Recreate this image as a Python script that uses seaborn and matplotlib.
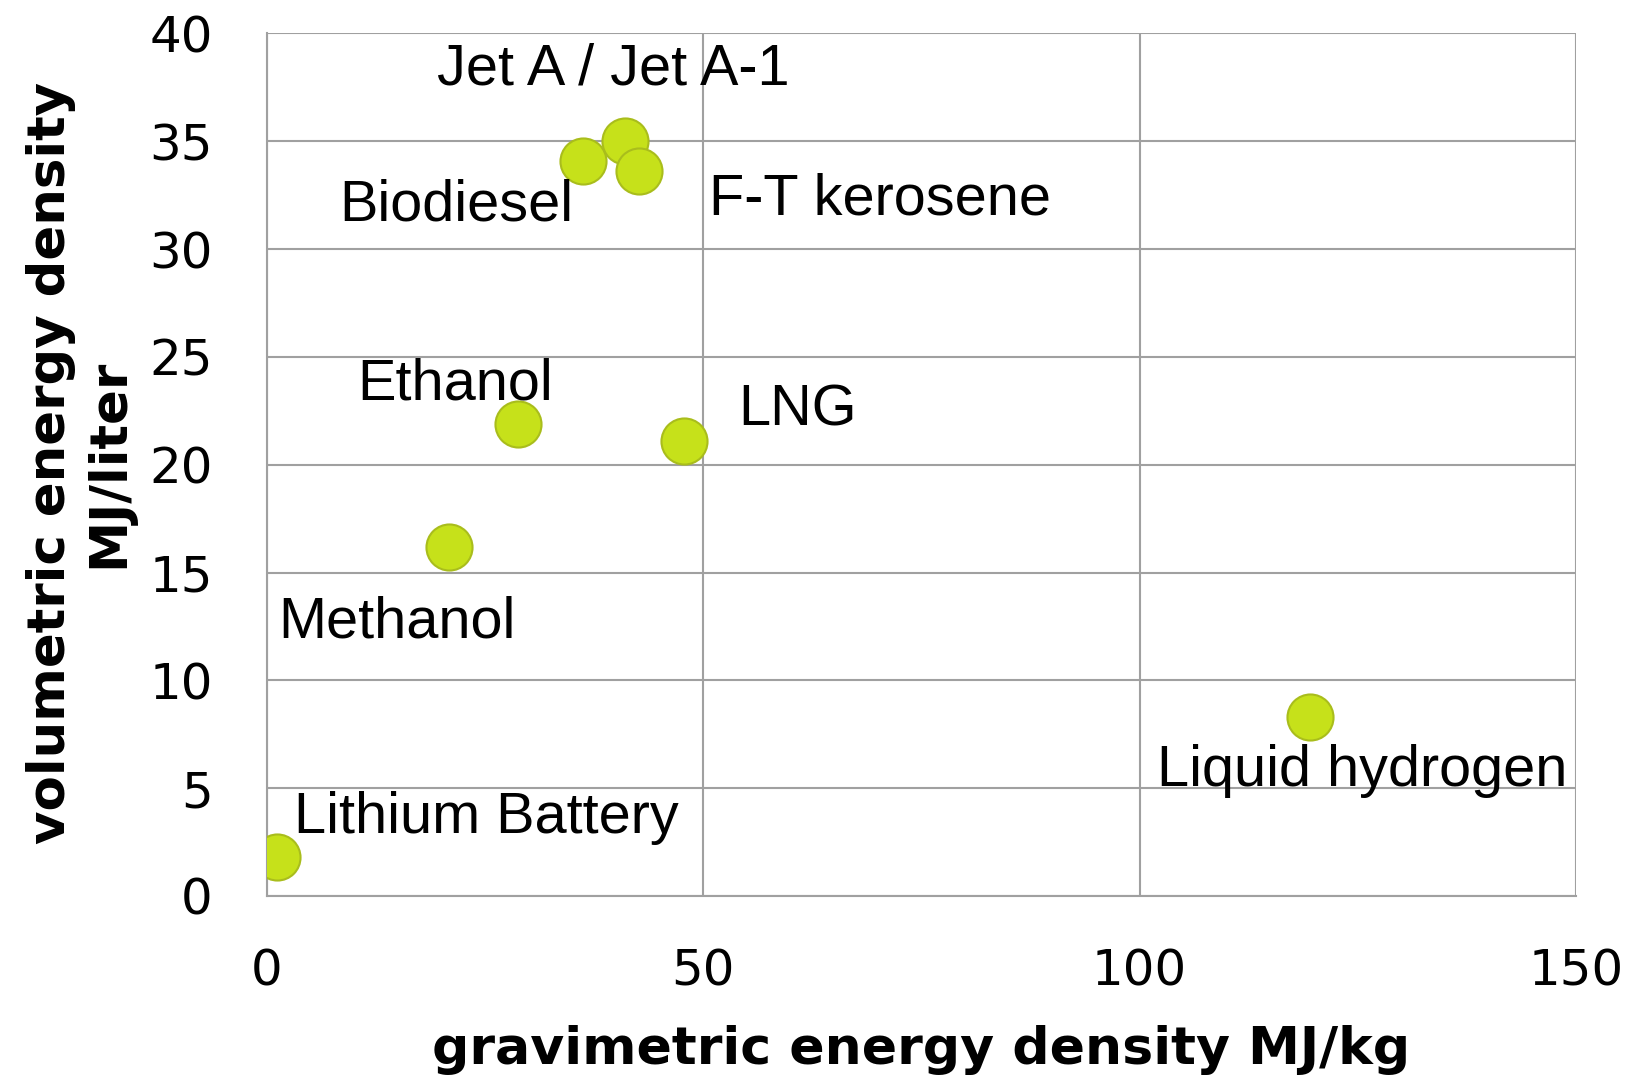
import seaborn as sns
import matplotlib.pyplot as plt
import pandas as pd

sns.set_style("white")
plt.rcParams["text.color"] = "black"
plt.rcParams["xtick.labelcolor"] = "black"
plt.rcParams["ytick.labelcolor"] = "black"

# Data
fuels = ["Lithium Battery", "Methanol", "Ethanol", "LNG", "Biodiesel",
         "Jet A / Jet A-1", "F-T kerosene", "Liquid hydrogen"]
gravimetric = [1.2, 20.9, 28.8, 47.8, 36.2, 41.0, 42.6, 119.5]   # MJ/kg
volumetric = [1.8, 16.2, 21.9, 21.1, 34.1, 35.0, 33.6, 8.3]      # MJ/liter

# label anchor (left, vertical centre) in data units
label_x = [3.1, 1.3, 10.4, 54.0, 8.3, 19.5, 50.7, 102.0]
label_y = [3.6, 12.7, 23.7, 22.5, 32.0, 38.35, 32.3, 5.8]

df = pd.DataFrame({"fuel": fuels, "grav": gravimetric, "vol": volumetric})

fig = plt.figure(figsize=(16.41, 10.80), dpi=100)
ax = fig.add_axes([0.1627, 0.1704, 0.7977, 0.7986])

grid_col = "#a0a0a0"
sns.scatterplot(data=df, x="grav", y="vol", ax=ax, s=1100,
                color="#c6e11a", edgecolor="#a9bd1c", linewidth=1.5,
                zorder=3, legend=False)

for name, lx, ly in zip(fuels, label_x, label_y):
    ax.text(lx, ly, name, fontsize=41.5, family="Liberation Sans",
            color="black", ha="left", va="center", zorder=4)

ax.set_xlim(0, 150)
ax.set_ylim(0, 40)
ax.set_xticks([0, 50, 100, 150])
ax.set_yticks(range(0, 45, 5))
ax.grid(True, color=grid_col, linewidth=1.5)
ax.set_axisbelow(True)
for side in ["top", "right"]:
    ax.spines[side].set_visible(False)
for side in ["left", "bottom"]:
    ax.spines[side].set_color(grid_col)
    ax.spines[side].set_linewidth(1.5)
ax.tick_params(axis="both", direction="out", length=14, width=1.5,
               color=grid_col, labelsize=36, labelcolor="black")
ax.tick_params(axis="x", pad=23)
ax.tick_params(axis="y", pad=25)
ax.set_xlabel("")
ax.set_ylabel("")

fig.text(0.5612, 1 - 1050 / 1080, "gravimetric energy density MJ/kg",
         fontsize=37.5, fontweight="bold", ha="center", va="center",
         color="black")
fig.text(80 / 1641, 1 - 463 / 1080, "volumetric energy density\nMJ/liter",
         fontsize=37, fontweight="bold", ha="center", va="center",
         rotation=90, multialignment="center", linespacing=1.2,
         color="black")

plt.savefig("out.png", dpi=100)
plt.close()
